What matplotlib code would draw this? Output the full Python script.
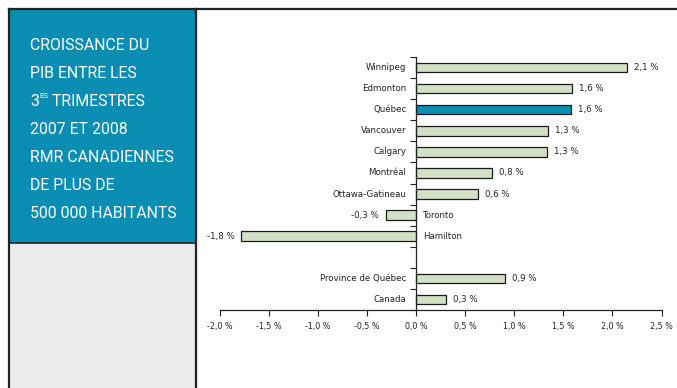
import matplotlib
matplotlib.use("Agg")
import matplotlib.pyplot as plt
from matplotlib.patches import Rectangle
from matplotlib.lines import Line2D

categories = ["Winnipeg", "Edmonton", "Québec", "Vancouver", "Calgary", "Montréal",
              "Ottawa-Gatineau", "Toronto", "Hamilton", "", "Province de Québec", "Canada"]
values = [2.15, 1.59, 1.58, 1.34, 1.33, 0.77, 0.63, -0.31, -1.78, None, 0.91, 0.31]
value_labels = ["2,1 %", "1,6 %", "1,6 %", "1,3 %", "1,3 %", "0,8 %", "0,6 %",
                "-0,3 %", "-1,8 %", "", "0,9 %", "0,3 %"]
highlight = "Québec"
xticks = [-2.0, -1.5, -1.0, -0.5, 0.0, 0.5, 1.0, 1.5, 2.0, 2.5]
xtick_labels = ["-2,0 %", "-1,5 %", "-1,0 %", "-0,5 %", "0,0 %", "0,5 %", "1,0 %", "1,5 %", "2,0 %", "2,5 %"]
title_lines = ["CROISSANCE DU", "PIB ENTRE LES", None, "2007 ET 2008",
               "RMR CANADIENNES", "DE PLUS DE", "500 000 HABITANTS"]

W, H = 677, 388
fig = plt.figure(figsize=(W / 100, H / 100), dpi=100)
fig.patch.set_facecolor("white")

def fx(px): return px / W
def fy(py): return 1 - py / H

# Left panel
blue = "#0a8db2"
fig.patches.append(Rectangle((fx(9), fy(243)), fx(196) - fx(9), fy(9) - fy(243),
                             transform=fig.transFigure, facecolor=blue, edgecolor="none", zorder=0))
fig.patches.append(Rectangle((fx(9), 0), fx(196) - fx(9), fy(243),
                             transform=fig.transFigure, facecolor="#ececec", edgecolor="none", zorder=0))
lc = "#222222"
fig.lines.append(Line2D([fx(9), 1], [fy(8.5), fy(8.5)], transform=fig.transFigure, color=lc, lw=1.6))
fig.lines.append(Line2D([fx(9), fx(9)], [0, fy(8.5)], transform=fig.transFigure, color=lc, lw=1.6))
fig.lines.append(Line2D([fx(196), fx(196)], [0, fy(8.5)], transform=fig.transFigure, color=lc, lw=1.6))
fig.lines.append(Line2D([fx(9), fx(196)], [fy(243), fy(243)], transform=fig.transFigure, color=lc, lw=1.2))

tfam = ["Roboto", "DejaVu Sans"]
tsize = 11.4
ys = [45, 73, 101, 129, 157, 185, 213]
renderer = fig.canvas.get_renderer()
figw = fig.get_figwidth() * fig.dpi
for line, y in zip(title_lines, ys):
    if line is not None:
        fig.text(fx(30), fy(y), line, color="white", fontsize=tsize, family=tfam,
                 va="center", ha="left")
    else:
        t1 = fig.text(fx(30), fy(y), "3", color="white", fontsize=tsize, family=tfam,
                      va="center", ha="left")
        bb = t1.get_window_extent(renderer)
        t2 = fig.text((bb.x1 + 0.5) / figw, fy(y - 4.5), "ES", color="white",
                      fontsize=tsize * 0.5, family=tfam, va="center", ha="left")
        bb2 = t2.get_window_extent(renderer)
        fig.text(bb2.x1 / figw, fy(y), " TRIMESTRES", color="white",
                 fontsize=tsize, family=tfam, va="center", ha="left")

# Chart
ax = fig.add_axes([fx(219.6), fy(310), fx(661.5) - fx(219.6), fy(57) - fy(310)])
ax.set_facecolor("none")
pos = list(range(len(categories)))
green = "#d3e0c6"
for i, (c, v) in enumerate(zip(categories, values)):
    if v is None:
        continue
    ax.barh(i, v, height=0.45, color=blue if c == highlight else green,
            edgecolor="#1a1a1a", linewidth=0.9, zorder=3)

ax.set_xlim(-2.0, 2.5)
ax.set_ylim(len(categories) - 0.5, -0.5)
for s in ["top", "right"]:
    ax.spines[s].set_visible(False)
ax.spines["left"].set_position(("data", 0))
ax.spines["left"].set_zorder(4)
ax.spines["bottom"].set_color("#222222")
ax.spines["left"].set_color("#222222")
ax.spines["bottom"].set_linewidth(0.9)
ax.spines["left"].set_linewidth(0.9)
ax.set_xticks(xticks)
ax.set_xticklabels(xtick_labels, fontsize=5.8, color="#222222")
ax.tick_params(axis="x", length=4, width=0.8, color="#222222", pad=5)
ax.set_yticks([p - 0.5 for p in pos] + [len(pos) - 0.5])
ax.set_yticklabels([])
ax.tick_params(axis="y", length=4, width=0.8, color="#222222", direction="out")

fs = 6.2
for i, (c, v, lab) in enumerate(zip(categories, values, value_labels)):
    if v is None:
        continue
    if v >= 0:
        ax.annotate(c, (0, i), xytext=(-7, 0), textcoords="offset points", ha="right",
                    va="center", fontsize=fs, color="#222222")
        ax.annotate(lab, (v, i), xytext=(5, 0), textcoords="offset points", ha="left",
                    va="center", fontsize=fs, color="#222222")
    else:
        ax.annotate(c, (0, i), xytext=(5, 0), textcoords="offset points", ha="left",
                    va="center", fontsize=fs, color="#222222")
        ax.annotate(lab, (v, i), xytext=(-5, 0), textcoords="offset points", ha="right",
                    va="center", fontsize=fs, color="#222222")

fig.savefig("out.png", dpi=100)
